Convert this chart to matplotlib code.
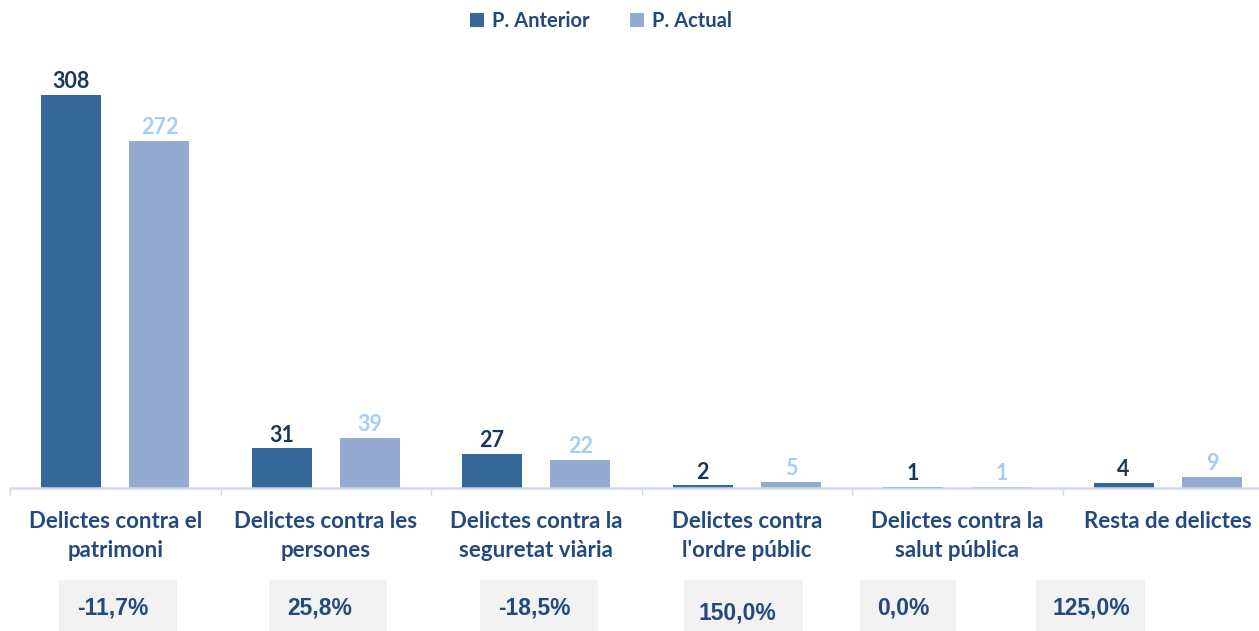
import matplotlib
matplotlib.use("Agg")
import matplotlib.pyplot as plt
from matplotlib.patches import Rectangle
import numpy as np

categories = ["Delictes contra el\npatrimoni", "Delictes contra les\npersones",
              "Delictes contra la\nseguretat viària", "Delictes contra\nl'ordre públic",
              "Delictes contra la\nsalut pública", "Resta de delictes"]
anterior = [308, 31, 27, 2, 1, 4]
actual = [272, 39, 22, 5, 1, 9]
variation = ["-11,7%", "25,8%", "-18,5%", "150,0%", "0,0%", "125,0%"]
series_names = ["P. Anterior", "P. Actual"]

W, H = 1259, 631
fig = plt.figure(figsize=(W / 100, H / 100), dpi=100)

c_ant = "#356899"
c_act = "#95AAD0"
c_lab_ant = "#17375E"
c_lab_act = "#A5CDF5"
c_txt = "#24497E"

ax_left, ax_right = 10, 1273
ax_bottom_px, ax_top_px = 488, 41.4
ax = fig.add_axes([ax_left / W, 1 - ax_bottom_px / H, (ax_right - ax_left) / W,
                   (ax_bottom_px - ax_top_px) / H])
ax.set_xlim(-0.5, 5.5)
ax.set_ylim(0, 350)

x = np.arange(len(categories))
off = 0.21
bw = 0.285
ax.bar(x - off, anterior, bw, color=c_ant, label=series_names[0], zorder=2)
ax.bar(x + off, actual, bw, color=c_act, label=series_names[1], zorder=2)

for xi, v in zip(x, anterior):
    ax.annotate(str(v), (xi - off, v), xytext=(0, 2), textcoords="offset points",
                ha="center", va="bottom", fontsize=15.5, fontweight="bold",
                color=c_lab_ant, family="Lato")
for xi, v in zip(x, actual):
    ax.annotate(str(v), (xi + off, v), xytext=(0, 2), textcoords="offset points",
                ha="center", va="bottom", fontsize=15.5, fontweight="bold",
                color=c_lab_act, family="Lato")

for s in ["top", "right", "left"]:
    ax.spines[s].set_visible(False)
ax.spines["bottom"].set_color("#D3DBEA")
ax.spines["bottom"].set_linewidth(1.8)
ax.set_yticks([])
ax.set_xticks(np.arange(-0.5, 6.0, 1.0), minor=False)
ax.set_xticklabels([])
ax.tick_params(axis="x", length=6, width=1, color="#D3DBEA", direction="out")

# category labels
for xi, c in zip(x, categories):
    ax.text(xi, -0.052, c, transform=ax.get_xaxis_transform(), ha="center", va="top",
            fontsize=16, fontweight="bold", color=c_txt, family="Lato",
            linespacing=1.48)

# variation boxes (layout in pixels)
box_left = [59, 269, 480, 684, 860, 1036]
box_right = [177, 387, 598, 803, 956, 1145]
text_pad = [18, 18, 18, 15, 17, 17]
text_y = [608, 608, 608, 613, 608, 608]
for l, r, p, t, ty in zip(box_left, box_right, text_pad, variation, text_y):
    fig.patches.append(Rectangle((l / W, 0), (r - l) / W, (H - 580) / H,
                                 transform=fig.transFigure, facecolor="#F2F2F2",
                                 edgecolor="none", zorder=0))
    fig.text((l + p) / W, 1 - ty / H, t, ha="left", va="center",
             fontsize=16.5, fontweight="bold", color=c_txt, family="Liberation Sans")

leg = fig.legend(loc="center", bbox_to_anchor=(601 / W, 1 - 21 / H), ncol=2, frameon=False,
                 prop={"family": "Lato", "weight": "bold", "size": 14.5},
                 handlelength=0.7, handleheight=0.7, handletextpad=0.4, columnspacing=2.0)
for t in leg.get_texts():
    t.set_color(c_txt)

fig.savefig("out.png", dpi=100)
